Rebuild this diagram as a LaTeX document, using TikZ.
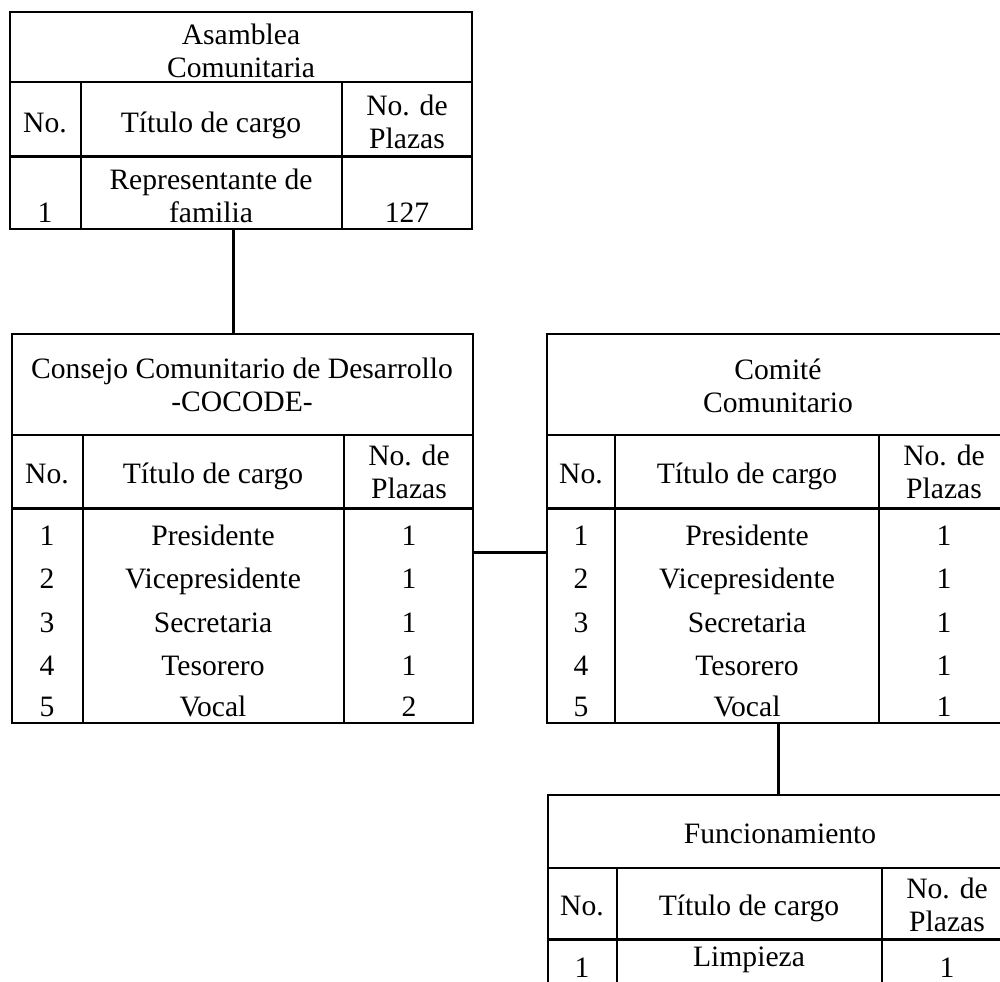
\documentclass[tikz,border=0pt]{standalone}
\usepackage{fontspec}
\setmainfont{Liberation Serif}
\tikzset{
  frame/.style={line width=0.9pt},
  headrule/.style={line width=1.5pt},
  link/.style={line width=1.5pt},
  txt/.style={inner sep=0pt, align=center, font=\fontsize{14.8}{16.2}\selectfont},
  cell/.style={txt, anchor=base},
}
\begin{document}
\begin{tikzpicture}[x=0.5pt,y=-0.5pt]
\useasboundingbox (0,0) rectangle (1000,981);

% ---------- Asamblea Comunitaria ----------
\draw[frame] (10,12) rectangle (472,229);
\draw[frame] (10,82) -- (472,82);
\draw[headrule] (10,156) -- (472,156);
\draw[frame] (81,82) -- (81,229);
\draw[frame] (342,82) -- (342,229);
\node[txt] (atitle) at (241,51) {Asamblea\\Comunitaria};
\node[cell] (ah1) at (45,132) {No.};
\node[cell] (ah2) at (211,132) {Título de cargo};
\node[txt]  (ah3) at (407,122) {No. de\\Plazas};
\node[txt]  (ar2) at (211,196) {Representante de\\familia};
\node[cell] (ar1) at (45,222) {1};
\node[cell] (ar3) at (407,222) {127};
\coordinate (asmB) at (233,229);

% ---------- COCODE ----------
\draw[frame] (12,334) rectangle (473,723);
\draw[frame] (12,435) -- (473,435);
\draw[headrule] (12,508) -- (473,508);
\draw[frame] (83,435) -- (83,723);
\draw[frame] (344,435) -- (344,723);
\node[txt] (ctitle) at (242,385) {Consejo Comunitario de Desarrollo\\-COCODE-};
\node[cell] (ch1) at (47,483) {No.};
\node[cell] (ch2) at (213,483) {Título de cargo};
\node[txt]  (ch3) at (409,472) {No. de\\Plazas};
\node[cell] (c1a) at (47,545) {1};
\node[cell] (c1b) at (213,545) {Presidente};
\node[cell] (c1c) at (409,545) {1};
\node[cell] (c2a) at (47,588) {2};
\node[cell] (c2b) at (213,588) {Vicepresidente};
\node[cell] (c2c) at (409,588) {1};
\node[cell] (c3a) at (47,632) {3};
\node[cell] (c3b) at (213,632) {Secretaria};
\node[cell] (c3c) at (409,632) {1};
\node[cell] (c4a) at (47,675) {4};
\node[cell] (c4b) at (213,675) {Tesorero};
\node[cell] (c4c) at (409,675) {1};
\node[cell] (c5a) at (47,716) {5};
\node[cell] (c5b) at (213,716) {Vocal};
\node[cell] (c5c) at (409,716) {2};
\coordinate (cocT) at (233,334);
\coordinate (cocR) at (473,552);

% ---------- Comite Comunitario ----------
\draw[frame] (1009,334) -- (547,334) -- (547,723) -- (1009,723);
\draw[frame] (547,435) -- (1009,435);
\draw[headrule] (547,508) -- (1009,508);
\draw[frame] (615,435) -- (615,723);
\draw[frame] (879,435) -- (879,723);
\node[txt] (mtitle) at (778,386) {Comité\\Comunitario};
\node[cell] (mh1) at (581,483) {No.};
\node[cell] (mh2) at (747,483) {Título de cargo};
\node[txt]  (mh3) at (944,472) {No. de\\Plazas};
\node[cell] (m1a) at (581,545) {1};
\node[cell] (m1b) at (747,545) {Presidente};
\node[cell] (m1c) at (944,545) {1};
\node[cell] (m2a) at (581,588) {2};
\node[cell] (m2b) at (747,588) {Vicepresidente};
\node[cell] (m2c) at (944,588) {1};
\node[cell] (m3a) at (581,632) {3};
\node[cell] (m3b) at (747,632) {Secretaria};
\node[cell] (m3c) at (944,632) {1};
\node[cell] (m4a) at (581,675) {4};
\node[cell] (m4b) at (747,675) {Tesorero};
\node[cell] (m4c) at (944,675) {1};
\node[cell] (m5a) at (581,716) {5};
\node[cell] (m5b) at (747,716) {Vocal};
\node[cell] (m5c) at (944,716) {1};
\coordinate (comL) at (547,552);
\coordinate (comB) at (778,723);

% ---------- Funcionamiento ----------
\draw[frame] (1012,795) -- (548,795) -- (548,990);
\draw[frame] (548,868) -- (1012,868);
\draw[headrule] (548,939) -- (1012,939);
\draw[frame] (617,868) -- (617,990);
\draw[frame] (882,868) -- (882,990);
\node[cell] (ftitle) at (780,843) {Funcionamiento};
\node[cell] (fh1) at (582,915) {No.};
\node[cell] (fh2) at (749,915) {Título de cargo};
\node[txt]  (fh3) at (947,905) {No. de\\Plazas};
\node[cell] (f1a) at (582,977) {1};
\node[cell] (f1b) at (749,966) {Limpieza};
\node[cell] (f1c) at (947,977) {1};
\coordinate (funT) at (778,795);

% ---------- connectors ----------
\draw[link] (asmB) -- (cocT);
\draw[link] (cocR) -- (comL);
\draw[link] (comB) -- (funT);
\end{tikzpicture}
\end{document}
